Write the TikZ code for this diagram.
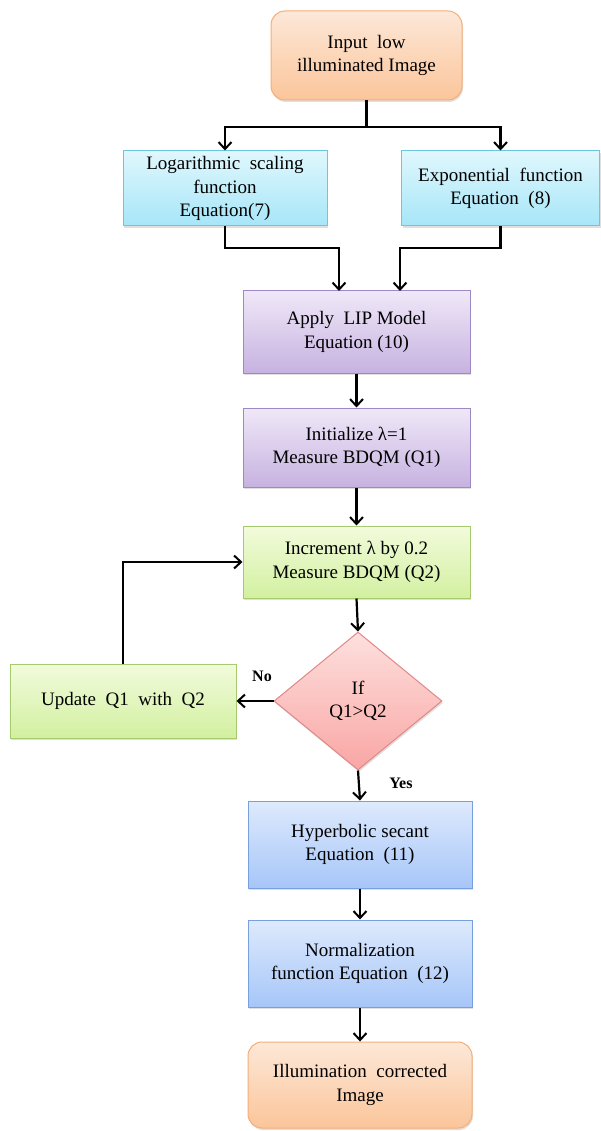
\documentclass[tikz,border=0pt]{standalone}
\usepackage{fontspec}
\setmainfont{Liberation Serif}
\usetikzlibrary{arrows.meta,shapes.geometric,shadows}
\definecolor{orTop}{HTML}{FDE8D8}
\definecolor{orBot}{HTML}{FBC59A}
\definecolor{orLine}{HTML}{F4AE78}
\definecolor{cyTop}{HTML}{E0F7FD}
\definecolor{cyBot}{HTML}{A6E6F8}
\definecolor{cyLine}{HTML}{6CC6DE}
\definecolor{puTop}{HTML}{F0E8F8}
\definecolor{puBot}{HTML}{C6B2E0}
\definecolor{puLine}{HTML}{9E88C6}
\definecolor{grTop}{HTML}{F2FBDC}
\definecolor{grBot}{HTML}{D2F0A0}
\definecolor{grLine}{HTML}{A6CA6E}
\definecolor{rdTop}{HTML}{FDE0DE}
\definecolor{rdBot}{HTML}{F9A6A4}
\definecolor{rdLine}{HTML}{E08886}
\definecolor{blTop}{HTML}{DEEAFD}
\definecolor{blBot}{HTML}{A6C6F8}
\definecolor{blLine}{HTML}{78A0DE}
\tikzset{
  box/.style={draw, line width=1pt, align=center, inner sep=2pt,
    font=\fontsize{19}{23.5}\selectfont,
    drop shadow={shadow xshift=1pt, shadow yshift=-2pt, opacity=0.25}},
  orbox/.style={box, rounded corners=14pt, draw=orLine, top color=orTop, bottom color=orBot},
  cybox/.style={box, draw=cyLine, top color=cyTop, bottom color=cyBot},
  pubox/.style={box, draw=puLine, top color=puTop, bottom color=puBot},
  grbox/.style={box, draw=grLine, top color=grTop, bottom color=grBot},
  blbox/.style={box, draw=blLine, top color=blTop, bottom color=blBot},
  decision/.style={box, diamond, aspect=1.22, inner sep=0pt, draw=rdLine, top color=rdTop, bottom color=rdBot},
  flow/.style={line width=2.2pt, -{Straight Barb[length=7pt,width=13pt,line width=2pt]}},
  plain/.style={line width=2.2pt},
  tag/.style={font=\bfseries\fontsize{16}{19}\selectfont}
}
\begin{document}
\begin{tikzpicture}[x=1pt,y=1pt]
\useasboundingbox (0,0) rectangle (601,-1131);

\node[orbox, minimum width=191pt, minimum height=89pt] (in) at (366.5,-55.5) {Input\ \ low\\illuminated Image};
\node[cybox, minimum width=204pt, minimum height=75pt] (log) at (225,-188.5) {Logarithmic\ \ scaling\\function\\Equation(7)};
\node[cybox, minimum width=198pt, minimum height=75pt] (exp) at (500.5,-188.5) {Exponential\ \ function\\Equation\ \ (8)};
\node[pubox, minimum width=227pt, minimum height=82pt] (lip) at (356.5,-332) {Apply\ \ LIP Model\\Equation (10)};
\node[pubox, minimum width=227pt, minimum height=79pt] (init) at (356.5,-447.5) {Initialize λ=1\\Measure BDQM (Q1)};
\node[grbox, minimum width=227pt, minimum height=72pt] (inc) at (356.5,-562) {Increment λ by 0.2\\Measure BDQM (Q2)};
\node[decision, minimum width=168pt, minimum height=138pt] (dec) at (358,-701) {If\\Q1>Q2};
\node[grbox, minimum width=226pt, minimum height=74pt] (upd) at (123,-701) {Update\ \ Q1\ \ with\ \ Q2};
\node[blbox, minimum width=224pt, minimum height=87pt] (hyp) at (360,-844.5) {Hyperbolic secant\\Equation\ \ (11)};
\node[blbox, minimum width=224pt, minimum height=87pt] (norm) at (360,-963.5) {Normalization\\function Equation\ \ (12)};
\node[orbox, minimum width=224pt, minimum height=86pt] (out) at (360,-1085) {Illumination\ \ corrected\\Image};

% split from the input image
\coordinate (split) at (in.south |- 0,-127);
\draw[plain] (in.south) -- (split);
\draw[flow] (split) -| (log.north);
\draw[flow] (split) -| (exp.north);

% merge into the LIP model
\coordinate (mL) at (339,-291);
\coordinate (mR) at (400,-291);
\draw[flow] (log.south) |- (339,-248) -- (mL);
\draw[flow] (exp.south) |- (400,-248) -- (mR);

\draw[flow] (lip.south) -- (init.north);
\draw[flow] (init.south) -- (inc.north);
\draw[flow] (inc.south) -- (dec.north);
\draw[flow] (dec.west) -- (upd.east);
\draw[flow] (upd.north) |- (inc.west);
\draw[flow] (dec.south) -- (hyp.north);
\draw[flow] (hyp.south) -- (norm.north);
\draw[flow] (norm.south) -- (out.north);

\node[tag] (no) at (262,-676) {No};
\node[tag] (yes) at (401,-783) {Yes};
\end{tikzpicture}
\end{document}
